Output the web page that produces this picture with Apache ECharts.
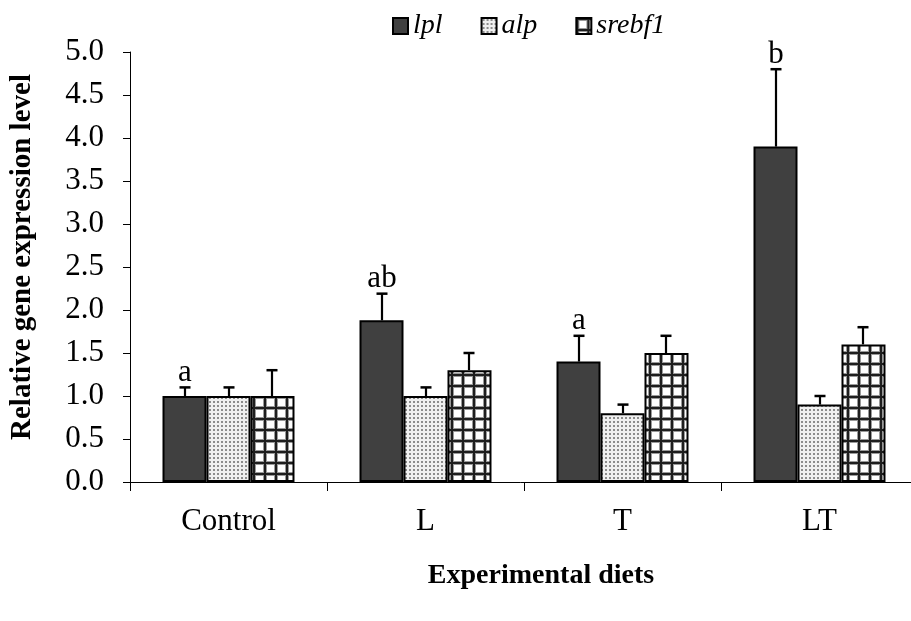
<!DOCTYPE html>
<html>
<head>
<meta charset="utf-8">
<script src="https://cdn.jsdelivr.net/npm/echarts@6/dist/echarts.min.js"></script>
<style>html,body{margin:0;padding:0;background:#fff;}#c{width:911px;height:621px;}</style>
</head>
<body>
<div id="c"></div>
<script>
const categories = ['Control', 'L', 'T', 'LT'];
const seriesNames = ['lpl', 'alp', 'srebf1'];
const lpl = [1.0, 1.88, 1.4, 3.9];
const lplErr = [0.1, 0.31, 0.3, 0.9];
const alp = [1.0, 1.0, 0.8, 0.9];
const alpErr = [0.1, 0.1, 0.1, 0.1];
const srebf1 = [1.0, 1.3, 1.5, 1.6];
const srebf1Err = [0.3, 0.2, 0.2, 0.2];
const lplLetters = ['a', 'ab', 'a', 'b'];

const FONT = "'Liberation Serif', 'Times New Roman', serif";

function dotPattern() {
  const c = document.createElement('canvas');
  c.width = 4; c.height = 4;
  const g = c.getContext('2d');
  g.fillStyle = '#f0f0f0'; g.fillRect(0, 0, 4, 4);
  g.fillStyle = '#8c8c8c'; g.fillRect(1, 1, 2, 2);
  return c;
}
function gridPattern() {
  const c = document.createElement('canvas');
  c.width = 11; c.height = 11;
  const g = c.getContext('2d');
  g.fillStyle = '#ffffff'; g.fillRect(0, 0, 11, 11);
  g.fillStyle = '#9a9a9a';
  g.fillRect(0, 2, 11, 1); g.fillRect(2, 0, 1, 11);
  g.fillRect(0, 10, 11, 1); g.fillRect(10, 0, 1, 11);
  g.fillStyle = '#1e1e1e';
  g.fillRect(0, 0, 11, 2); g.fillRect(0, 0, 2, 11);
  return c;
}

const GAP = 0.33;
const chart = echarts.init(document.getElementById('c'), null, {renderer: 'canvas'});

function errSeries(vals, errs, idx, letters) {
  return {
    type: 'custom',
    z: 10,
    silent: true,
    data: vals.map((v, i) => [i, v, errs[i]]),
    renderItem: function (params, api) {
      const cat = api.value(0), v = api.value(1), e = api.value(2);
      const letter = letters ? letters[params.dataIndex] : '';
      const band = api.size([1, 0])[0];
      const bw = band * (1 - GAP) / 3;
      const off = (idx - 1) * bw;
      const p0 = api.coord([cat, v]);
      const p1 = api.coord([cat, v + e]);
      const x = Math.round(p0[0] + off);
      const children = [
        {type: 'line', shape: {x1: x, y1: p0[1], x2: x, y2: p1[1]}, style: {stroke: '#000', lineWidth: 2.2}},
        {type: 'line', shape: {x1: x - 5.5, y1: p1[1], x2: x + 5.5, y2: p1[1]}, style: {stroke: '#000', lineWidth: 2.5}}
      ];
      if (letter) {
        children.push({type: 'text', x: x, y: p1[1] + 1, style: {text: letter, fill: '#000', font: '31px ' + FONT, align: 'center', verticalAlign: 'bottom'}});
      }
      return {type: 'group', children: children};
    }
  };
}

const barStyle = (color) => ({color: color, borderColor: '#000', borderWidth: 2});

const option = {
  backgroundColor: '#fff',
  animation: false,
  legend: {
    data: seriesNames,
    left: 387, top: 7,
    itemWidth: 15, itemHeight: 16, itemGap: 38,
    icon: 'rect',
    textStyle: {fontFamily: FONT, fontStyle: 'italic', fontSize: 28, color: '#000'}
  },
  grid: {left: 130, right: -7, top: 52, bottom: 139, outerBoundsMode: 'none'},
  xAxis: {
    type: 'category',
    data: categories,
    axisLine: {lineStyle: {color: '#000', width: 1}},
    axisTick: {show: true, length: 9, lineStyle: {color: '#000'}},
    axisLabel: {color: '#000', fontFamily: FONT, fontSize: 31, margin: 24}
  },
  yAxis: {
    type: 'value', min: 0, max: 5, interval: 0.5,
    axisLine: {show: true, lineStyle: {color: '#000', width: 1}},
    axisTick: {show: true, length: 7, lineStyle: {color: '#000'}},
    splitLine: {show: false},
    axisLabel: {color: '#000', fontFamily: FONT, fontSize: 31, margin: 26, formatter: v => v.toFixed(1)}
  },
  graphic: [
    {type: 'text', x: 23, y: 257, rotation: Math.PI / 2,
     style: {text: 'Relative gene expression level', font: 'bold 29px ' + FONT, fill: '#000', align: 'center', verticalAlign: 'middle'}},
    {type: 'text', x: 541, y: 576,
     style: {text: 'Experimental diets', font: 'bold 28px ' + FONT, fill: '#000', align: 'center', verticalAlign: 'middle'}}
  ],
  series: [
    {name: 'lpl', type: 'bar', data: lpl, barGap: '0%', barCategoryGap: (GAP * 100) + '%', itemStyle: barStyle('#404040')},
    {name: 'alp', type: 'bar', data: alp, barGap: '0%', barCategoryGap: (GAP * 100) + '%', itemStyle: barStyle({image: dotPattern(), repeat: 'repeat'})},
    {name: 'srebf1', type: 'bar', data: srebf1, barGap: '0%', barCategoryGap: (GAP * 100) + '%', itemStyle: barStyle({image: gridPattern(), repeat: 'repeat'})},
    errSeries(lpl, lplErr, 0, lplLetters),
    errSeries(alp, alpErr, 1, null),
    errSeries(srebf1, srebf1Err, 2, null)
  ]
};
chart.setOption(option);
</script>
</body>
</html>
